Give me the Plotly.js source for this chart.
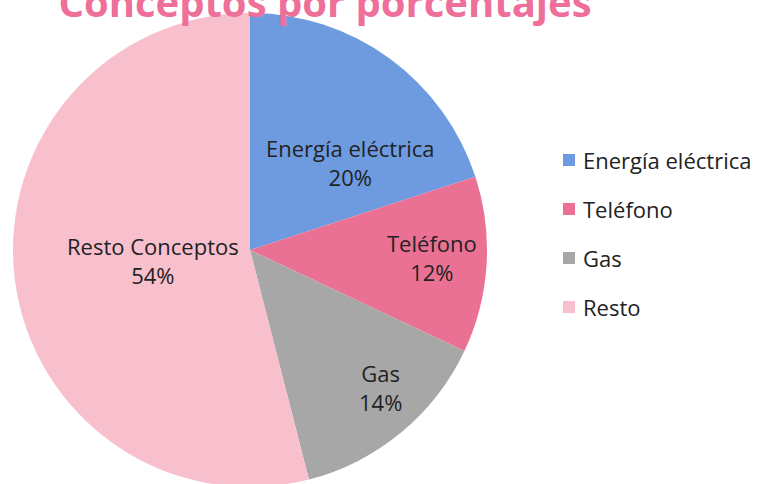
<!DOCTYPE html>
<html>
<head>
<meta charset="utf-8">
<script src="https://cdn.plot.ly/plotly-3.0.1.min.js"></script>
<style>
html,body{margin:0;padding:0;overflow:hidden;background:#fff;}
#chart{width:764px;height:490px;}
</style>
</head>
<body>
<div id="chart"></div>
<script>
// ---- data ----
const legendLabels = ["Energía eléctrica", "Teléfono", "Gas", "Resto"];
const sliceLabels = ["Energía eléctrica", "Teléfono", "Gas", "Resto Conceptos"];
const values = [20, 12, 14, 54];
const titleText = "Conceptos por porcentajes";

// ---- styling ----
const colors = ["#6e9bdf", "#eb7194", "#a7a7a7", "#f8bfcd"];
const W = 764, H = 490;
const cxPx = 250, cyPx = 250, rPx = 237;
const labelRadius = [0.56, 0.77, 0.80, 0.41];
const labelAngleShift = [12.6, -1.4, -4, 0.7];
const FONT = "'Open Sans', Lato, sans-serif";

const total = values.reduce((a, b) => a + b, 0);
const domX = [(cxPx - rPx) / W, (cxPx + rPx) / W];
const domY = [(H - cyPx - rPx) / H, (H - cyPx + rPx) / H];

const annotations = [];
let cum = 0;
values.forEach((v, i) => {
  const mid = ((cum + v / 2) / total * 360 + labelAngleShift[i]) * Math.PI / 180;
  cum += v;
  const px = cxPx + rPx * labelRadius[i] * Math.sin(mid);
  const py = cyPx - rPx * labelRadius[i] * Math.cos(mid);
  annotations.push({
    xref: "paper", yref: "paper",
    x: px / W, y: 1 - py / H,
    text: sliceLabels[i] + "<br>" + Math.round(v / total * 100) + "%",
    showarrow: false, xanchor: "center", yanchor: "middle",
    font: {family: FONT, size: 22, color: "#222"},
    align: "center"
  });
});

// manual legend
const legX = 563, legY0 = 160, legStep = 49, sw = 12;
const shapes = [];
legendLabels.forEach((lab, i) => {
  const y = legY0 + i * legStep;
  shapes.push({
    type: "rect", xref: "paper", yref: "paper",
    x0: legX / W, x1: (legX + sw) / W,
    y0: 1 - (y + sw / 2) / H, y1: 1 - (y - sw / 2) / H,
    fillcolor: colors[i], line: {width: 0}
  });
  annotations.push({
    xref: "paper", yref: "paper",
    x: (legX + sw + 6) / W, y: 1 - y / H,
    text: lab, showarrow: false, xanchor: "left", yanchor: "middle",
    font: {family: FONT, size: 22, color: "#222"}
  });
});

const trace = {
  type: "pie",
  labels: legendLabels,
  values: values,
  sort: false,
  direction: "clockwise",
  rotation: 0,
  marker: {colors: colors, line: {width: 0}},
  textinfo: "none",
  hoverinfo: "label+percent",
  showlegend: false,
  domain: {x: domX, y: domY}
};

const layout = {
  width: W, height: H,
  margin: {l: 0, r: 0, t: 0, b: 0},
  paper_bgcolor: "#ffffff",
  showlegend: false,
  title: {
    text: "<b>" + titleText + "</b>",
    x: 325 / W, xanchor: "center",
    xref: "paper",
    yref: "container", y: 0.994, yanchor: "middle",
    font: {family: FONT, size: 40, color: "#ee6f9a"}
  },
  annotations: annotations,
  shapes: shapes
};

Plotly.newPlot("chart", [trace], layout, {displayModeBar: false, staticPlot: true});
</script>
</body>
</html>
